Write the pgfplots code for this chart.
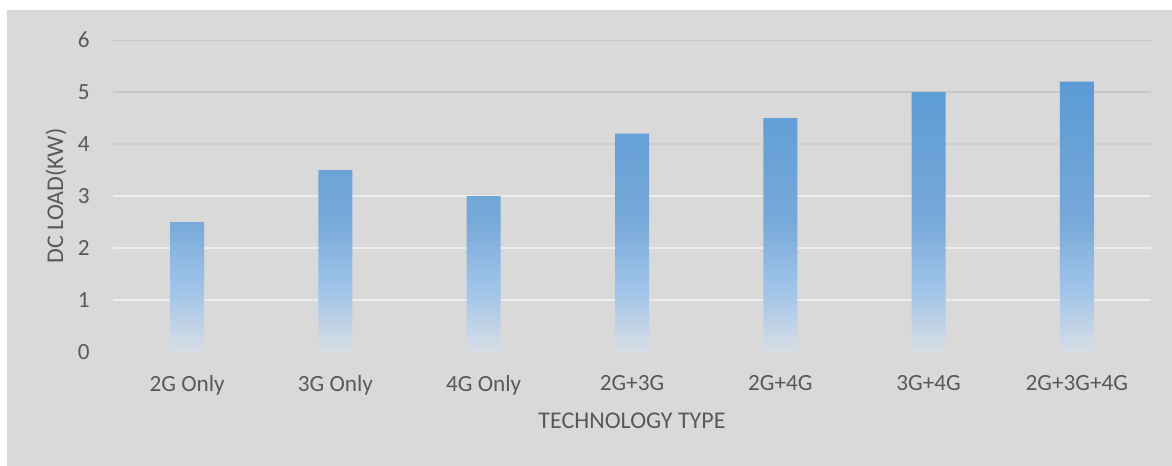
\documentclass[border=0pt]{standalone}
\usepackage{pgfplots}
\pgfplotsset{compat=1.18}
\usepackage{fontspec}
\setmainfont{Carlito}

\definecolor{panel}{HTML}{D9D9D9}
\definecolor{txt}{HTML}{595959}
\definecolor{gridhi}{HTML}{C6C6C6}
\definecolor{gridmid}{HTML}{CFCFCF}
\definecolor{gridlo}{HTML}{EDEDED}
\definecolor{bartop}{HTML}{5B9BD5}
\definecolor{barmid}{HTML}{76A8D8}
\definecolor{barlow}{HTML}{A2C5EA}
\definecolor{barbot}{HTML}{D8DEE6}

% bar fill: solid blue at the top fading to pale grey at the base
\pgfdeclareverticalshading{barfade}{100bp}{%
  color(0bp)=(barbot); color(25bp)=(barbot); color(36bp)=(barlow);
  color(50bp)=(barmid); color(75bp)=(bartop); color(100bp)=(bartop)}

\begin{document}
\begin{tikzpicture}
\useasboundingbox (-56.5bp,-57bp) rectangle (529.5bp,176bp);
\fill[white] (-56.5bp,-57bp) rectangle (529.5bp,176bp);
\fill[panel] (-53bp,-57bp) rectangle (529.5bp,171bp);
\begin{axis}[
  at={(0,0)}, anchor=south west,
  scale only axis, width=519bp, height=156bp,
  xmin=-0.5, xmax=6.5, ymin=0, ymax=6,
  axis line style={draw=none},
  major tick length=0pt,
  /pgf/number format/assume math mode=true,
  xtick={0,...,6},
  xticklabels={2G Only,3G Only,4G Only,2G+3G,2G+4G,3G+4G,2G+3G+4G},
  ytick={0,...,6},
  tick label style={font=\fontsize{11.6bp}{13.5bp}\selectfont, text=txt, inner sep=0pt},
  xticklabel style={anchor=north, yshift=-11.5bp},
  yticklabel style={anchor=east, xshift=-11.5bp},
  xlabel={TECHNOLOGY TYPE},
  ylabel={DC LOAD(KW)},
  label style={font=\fontsize{12bp}{14bp}\selectfont, text=txt, inner sep=0pt},
  xlabel style={at={(axis description cs:0.5,0)}, anchor=center, yshift=-34.5bp},
  ylabel style={at={(axis description cs:0,0.5)}, anchor=center, yshift=28.5bp},
]
% horizontal gridlines
\draw[gridlo, line width=0.9bp] (axis cs:-0.5,1) -- (axis cs:6.5,1);
\draw[gridlo, line width=0.9bp] (axis cs:-0.5,2) -- (axis cs:6.5,2);
\draw[gridlo, line width=0.9bp] (axis cs:-0.5,3) -- (axis cs:6.5,3);
\draw[gridmid, line width=0.9bp] (axis cs:-0.5,4) -- (axis cs:6.5,4);
\draw[gridhi, line width=0.9bp] (axis cs:-0.5,5) -- (axis cs:6.5,5);
\draw[gridhi, line width=0.9bp] (axis cs:-0.5,6) -- (axis cs:6.5,6);

\addplot[ybar, bar width=17bp, draw=none, shade, shading=barfade]
  coordinates {(0,2.5) (1,3.5) (2,3.0) (3,4.2) (4,4.5) (5,5.0) (6,5.2)};
\end{axis}
\end{tikzpicture}
\end{document}
